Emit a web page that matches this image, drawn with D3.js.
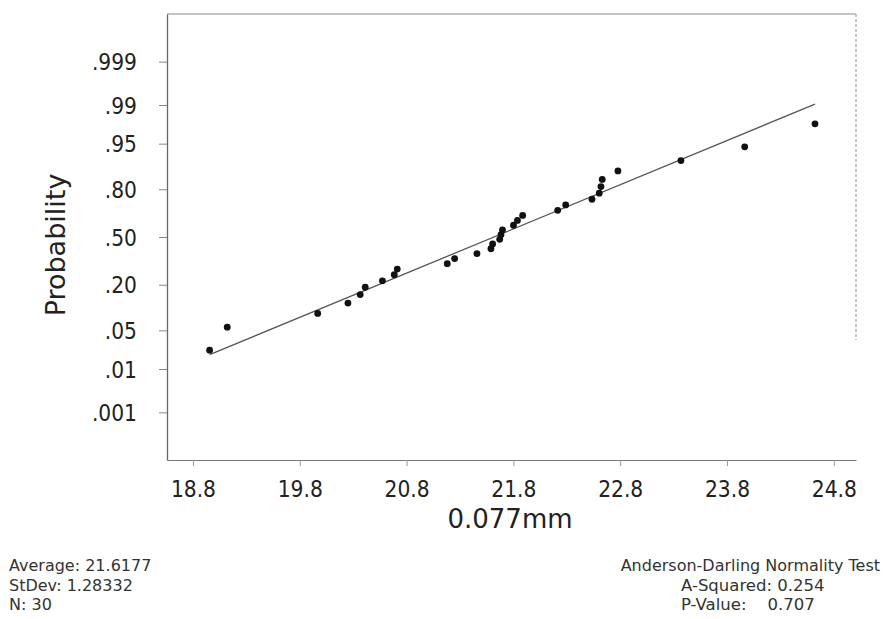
<!DOCTYPE html>
<html>
<head>
<meta charset="utf-8">
<script src="https://cdn.jsdelivr.net/npm/d3@7/dist/d3.min.js"></script>
<style>
  html, body { margin: 0; padding: 0; background: #fff; }
  svg { display: block; }
  text { font-family: "DejaVu Sans", sans-serif; }
</style>
</head>
<body>
<svg id="chart" width="884" height="619"></svg>
<script>
// ---- data ----
const xValues = [18.956, 19.121, 19.968, 20.251, 20.366, 20.413, 20.574, 20.685, 20.713, 21.181,
                 21.250, 21.459, 21.590, 21.606, 21.672, 21.684, 21.698, 21.801, 21.838, 21.887,
                 22.215, 22.290, 22.536, 22.604, 22.620, 22.632, 22.779, 23.369, 23.966, 24.624];
const probValues = [0.023, 0.056, 0.089, 0.122, 0.155, 0.188, 0.220, 0.253, 0.286, 0.319,
                    0.352, 0.385, 0.418, 0.451, 0.484, 0.516, 0.549, 0.582, 0.615, 0.648,
                    0.681, 0.714, 0.747, 0.780, 0.813, 0.845, 0.878, 0.911, 0.944, 0.977];
const xTicks = [18.8, 19.8, 20.8, 21.8, 22.8, 23.8, 24.8];
const yTicks = [0.999, 0.99, 0.95, 0.80, 0.50, 0.20, 0.05, 0.01, 0.001];
const yTickLabels = [".999", ".99", ".95", ".80", ".50", ".20", ".05", ".01", ".001"];
const statMean = 21.6177;
const statStDev = 1.28332;
const statN = 30;
const leftStats = ["Average: 21.6177", "StDev: 1.28332", "N: 30"];
const testTitle = "Anderson-Darling Normality Test";
const rightStats = ["A-Squared: 0.254", "P-Value:    0.707"];

// inverse standard normal CDF (Acklam)
function probit(p) {
  const a = [-3.969683028665376e+01, 2.209460984245205e+02, -2.759285104469687e+02, 1.383577518672690e+02, -3.066479806614716e+01, 2.506628277459239e+00];
  const b = [-5.447609879822406e+01, 1.615858368580409e+02, -1.556989798598866e+02, 6.680131188771972e+01, -1.328068155288572e+01];
  const c = [-7.784894002430293e-03, -3.223964580411365e-01, -2.400758277161838e+00, -2.549732539343734e+00, 4.374664141464968e+00, 2.938163982698783e+00];
  const d = [7.784695709041462e-03, 3.224671290700398e-01, 2.445134137142996e+00, 3.754408661907416e+00];
  const pl = 0.02425, ph = 1 - pl;
  let q, r;
  if (p < pl) { q = Math.sqrt(-2 * Math.log(p)); return (((((c[0]*q+c[1])*q+c[2])*q+c[3])*q+c[4])*q+c[5]) / ((((d[0]*q+d[1])*q+d[2])*q+d[3])*q+1); }
  if (p > ph) { q = Math.sqrt(-2 * Math.log(1 - p)); return -(((((c[0]*q+c[1])*q+c[2])*q+c[3])*q+c[4])*q+c[5]) / ((((d[0]*q+d[1])*q+d[2])*q+d[3])*q+1); }
  q = p - 0.5; r = q * q;
  return (((((a[0]*r+a[1])*r+a[2])*r+a[3])*r+a[4])*r+a[5])*q / (((((b[0]*r+b[1])*r+b[2])*r+b[3])*r+b[4])*r+1);
}

const svg = d3.select("#chart");
const L = 167, T = 14, R = 856, B = 460;
const condensed = "'DejaVu Sans Condensed','DejaVu Sans',sans-serif";

const x = d3.scaleLinear().domain([18.557, 25.008]).range([L, R]);
const z = d3.scaleLinear().domain([-3.93, 3.93]).range([B, T]);
const y = p => z(probit(p));

// frame (top and right borders)
svg.append("line").attr("x1", L).attr("x2", R).attr("y1", T).attr("y2", T)
  .attr("stroke", "#8a8a8a").attr("stroke-width", 1.2);
svg.append("line").attr("x1", R).attr("x2", R).attr("y1", T).attr("y2", 340)
  .attr("stroke", "#b5b5b5").attr("stroke-width", 1.5).attr("stroke-dasharray", "3,2");

// x axis
const xAxis = d3.axisBottom(x).tickValues(xTicks).tickFormat(d3.format(".1f")).tickSize(6).tickSizeOuter(0);
const gx = svg.append("g").attr("transform", `translate(0,${B})`).call(xAxis);
gx.select(".domain").attr("stroke", "#777").attr("stroke-width", 1.2);
gx.selectAll(".tick line").attr("stroke", "#999");
gx.selectAll(".tick text").attr("fill", "#222").attr("font-size", 22.5).attr("dy", 0).attr("y", 37)
  .attr("font-family", condensed).style("font-stretch", "condensed");

// y axis
const yAxis = d3.axisLeft(z).tickValues(yTicks.map(probit))
  .tickFormat((d, i) => yTickLabels[i]).tickSize(8).tickSizeOuter(0);
const gy = svg.append("g").attr("transform", `translate(${L},0)`).call(yAxis);
gy.select(".domain").attr("stroke", "#666").attr("stroke-width", 1.3);
gy.selectAll(".tick line").attr("stroke", "#888");
gy.selectAll(".tick text").attr("fill", "#222").attr("font-size", 22.5).attr("x", -30)
  .attr("dy", "0.36em")
  .attr("font-family", condensed).style("font-stretch", "condensed");

// fitted line
const xmin = d3.min(xValues), xmax = d3.max(xValues);
const linePts = [xmin, xmax].map(v => ({ v: v, zz: (v - statMean) / statStDev }));
svg.append("path")
  .datum(linePts)
  .attr("d", d3.line().x(d => x(d.v)).y(d => z(d.zz)))
  .attr("fill", "none").attr("stroke", "#555").attr("stroke-width", 1.3);

// points
svg.append("g").selectAll("circle")
  .data(xValues.map((v, i) => ({ v: v, p: probValues[i] })))
  .join("circle")
  .attr("cx", d => x(d.v)).attr("cy", d => y(d.p)).attr("r", 3.4)
  .attr("fill", "#111");

// axis titles
svg.append("text").attr("x", 510).attr("y", 528).attr("text-anchor", "middle")
  .attr("font-size", 26).attr("fill", "#222").text("0.077mm");
svg.append("text").attr("transform", "translate(65,245) rotate(-90)").attr("text-anchor", "middle")
  .attr("font-size", 27).attr("fill", "#222").text("Probability");

// stats text
svg.append("g").selectAll("text").data(leftStats).join("text")
  .attr("x", 9).attr("y", (d, i) => 571 + i * 19.5)
  .attr("font-size", 16).attr("fill", "#333").text(d => d);
svg.append("text").attr("x", 880).attr("y", 571).attr("text-anchor", "end")
  .attr("font-size", 16).attr("fill", "#333").text(testTitle);
svg.append("g").selectAll("text").data(rightStats).join("text")
  .attr("x", 681).attr("y", (d, i) => 590.5 + i * 19.5)
  .attr("font-size", 16.5).attr("fill", "#333")
  .style("white-space", "pre").text(d => d);
</script>
</body>
</html>
